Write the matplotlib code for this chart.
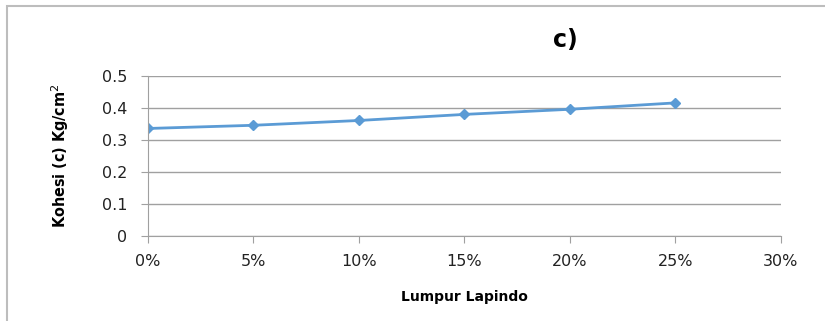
import numpy as np
import matplotlib.pyplot as plt
from matplotlib.patches import Rectangle
from matplotlib.ticker import PercentFormatter

# Lumpur Lapindo content vs cohesion
lumpur = [0, 5, 10, 15, 20, 25]
kohesi = [0.336, 0.346, 0.361, 0.380, 0.396, 0.416]
x_ticks = [0, 5, 10, 15, 20, 25, 30]
y_ticks = [0, 0.1, 0.2, 0.3, 0.4, 0.5]

fig = plt.figure(figsize=(8.25, 3.21), dpi=100)
ax = fig.add_axes([148 / 825, 1 - 236 / 321, (781 - 148) / 825, (236 - 76) / 321])

ax.plot(lumpur, kohesi, color='#5b9bd5', lw=2, marker='D', markersize=5.5)

ax.set_xlim(0, 30)
ax.set_ylim(0, 0.5)
ax.set_xticks(x_ticks)
ax.set_yticks(y_ticks)
ax.set_yticklabels(['0', '0.1', '0.2', '0.3', '0.4', '0.5'])
ax.xaxis.set_major_formatter(PercentFormatter(decimals=0))
ax.grid(axis='y', color='#a0a0a0', lw=1)
ax.set_axisbelow(True)
for s in ['top', 'right']:
    ax.spines[s].set_visible(False)
for s in ['left', 'bottom']:
    ax.spines[s].set_color('#a0a0a0')
ax.tick_params(colors='#a0a0a0', labelcolor='#222222', labelsize=11.5, length=5,
               direction='out')
ax.tick_params(axis='x', pad=8)
ax.tick_params(axis='y', pad=10)

ax.set_ylabel('Kohesi (c) Kg/cm$^2$', fontsize=11.5, fontweight='bold',
              fontstretch='condensed', labelpad=22)
ax.set_xlabel('Lumpur Lapindo', fontsize=10, fontweight='bold', labelpad=15)
fig.text(565 / 825, 1 - 40 / 321, 'c)', fontsize=17, fontweight='bold',
         ha='center', va='center')

# outer frame of the embedded chart
fig.add_artist(Rectangle((7 / 825, -0.1), 1.2, 1 - 6 / 321 + 0.1,
                         transform=fig.transFigure, fill=False,
                         edgecolor='#bdbdbd', lw=1.5))

plt.savefig('out.png', dpi=100)
